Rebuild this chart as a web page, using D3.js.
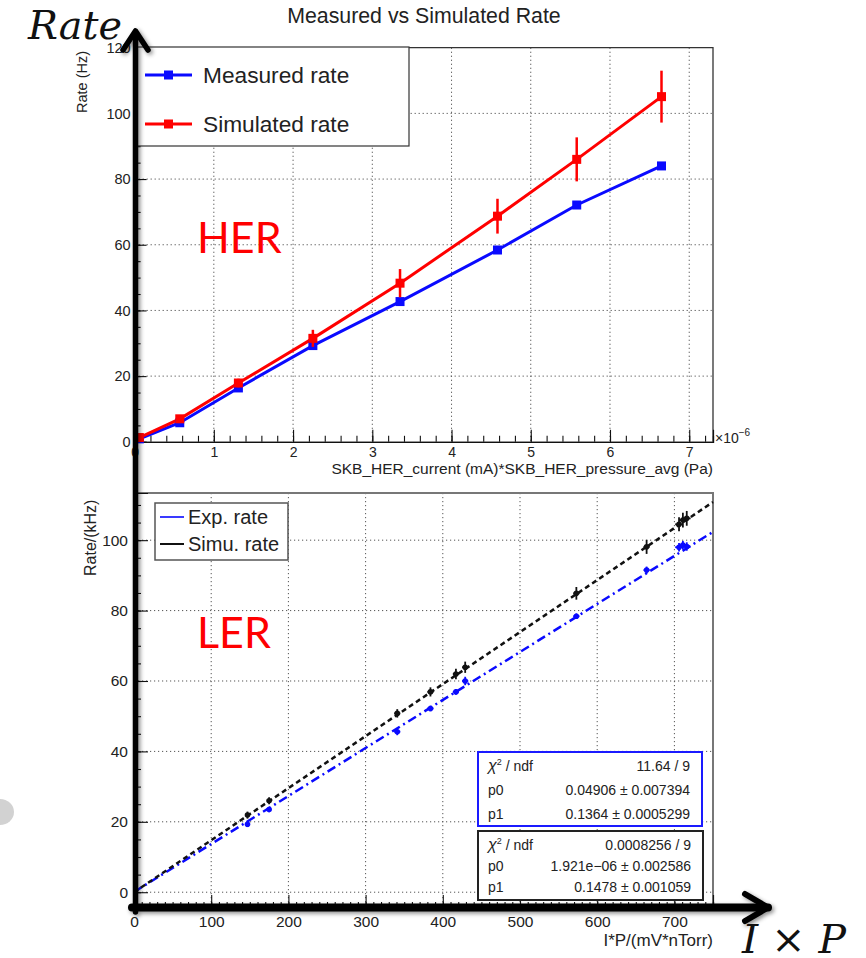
<!DOCTYPE html>
<html>
<head>
<meta charset="utf-8">
<script src="https://cdn.jsdelivr.net/npm/d3@7"></script>
<style>
  html, body { margin: 0; padding: 0; background: #fff; }
  svg { display: block; font-family: "Liberation Sans", Arial, sans-serif; }
  text { fill: #222; }
</style>
</head>
<body>
<svg id="chart" width="866" height="958"></svg>
<script>
// ---------- HER panel data (x in units of 1e-6 mA*Pa, rate in Hz) ----------
const herX = [0.06, 0.57, 1.31, 2.25, 3.35, 4.58, 5.58, 6.65];
const herMeasured = [0.9, 5.8, 16.4, 29.3, 42.7, 58.4, 72.1, 84.0];
const herSimulated = [1.3, 7.0, 17.9, 31.5, 48.3, 68.7, 86.0, 105.1];
const herSimErr = [0.3, 0.8, 1.3, 2.6, 4.3, 5.3, 6.7, 7.9];
const herXTicks = [0, 1, 2, 3, 4, 5, 6, 7];
const herYTicks = [0, 20, 40, 60, 80, 100, 120];

// ---------- LER panel data (x in mV*nTorr, rate in kHz) ----------
const lerX = [147, 175, 341, 384, 417, 429, 573, 664, 706, 711, 716];
const lerExp = [19.3, 23.5, 45.6, 52.2, 56.9, 60.0, 78.4, 91.5, 98.0, 98.6, 98.2];
const lerExpErr = [0.8, 0.8, 1.0, 0.8, 0.8, 1.2, 0.8, 1.0, 1.2, 1.2, 1.2];
const lerSim = [21.9, 26.0, 50.8, 56.9, 62.0, 63.9, 84.9, 98.1, 104.5, 105.7, 106.2];
const lerSimErr = [1.0, 1.0, 1.2, 1.3, 1.5, 1.6, 1.8, 2.0, 2.0, 2.1, 2.1];
const lerXErr = [3, 3, 4, 4, 4, 4, 4, 4, 5, 5, 5];
const lerXTicks = [0, 100, 200, 300, 400, 500, 600, 700];
const lerYTicks = [0, 20, 40, 60, 80, 100];
// linear fits: rate = p0 + p1 * x
const expFit = { p0: 0.04906, p1: 0.1364 };
const simFit = { p0: 1.921e-06, p1: 0.1478 };
const expFitRows = [["\u03c7\u00b2 / ndf", "11.64 / 9"], ["p0", "0.04906 \u00b1 0.007394"], ["p1", "0.1364 \u00b1 0.0005299"]];
const simFitRows = [["\u03c7\u00b2 / ndf", "0.0008256 / 9"], ["p0", "1.921e\u221206 \u00b1 0.002586"], ["p1", "0.1478 \u00b1 0.001059"]];

const svg = d3.select("#chart");
const BLUE = "#0a0aff", RED = "#ff0000";

// drop shadow for the hand-drawn axis arrows
const defs = svg.append("defs");
const f = defs.append("filter").attr("id", "shadow").attr("x", "-20%").attr("y", "-20%").attr("width", "140%").attr("height", "140%");
f.append("feDropShadow").attr("dx", 2).attr("dy", 2).attr("stdDeviation", 2).attr("flood-color", "#000").attr("flood-opacity", 0.45);

// soft gray blob at the left edge
svg.append("ellipse").attr("cx", 0).attr("cy", 812).attr("rx", 14).attr("ry", 13).attr("fill", "#d2d2d2");

function styleAxis(g, size) {
  g.attr("font-family", null);
  g.select(".domain").attr("stroke", "#111").attr("stroke-width", 1.2);
  g.selectAll(".tick line").attr("stroke", "#111").attr("stroke-width", 1.1);
  g.selectAll(".tick text").attr("font-size", size || 14).attr("fill", "#222");
}

function range(a, b, s) { const r = []; for (let v = a; v <= b + 1e-9; v += s) r.push(+v.toFixed(6)); return r; }

// =================== HER panel ===================
const hx = d3.scaleLinear().domain([0, 7.3]).range([134.6, 713]);
const hy = d3.scaleLinear().domain([0, 120]).range([441.8, 47.7]);
const herPanel = svg.append("g");

herPanel.append("text").attr("x", 424).attr("y", 23).attr("text-anchor", "middle")
  .attr("font-size", 21.3).text("Measured vs Simulated Rate");

// grid
const hgrid = herPanel.append("g").attr("stroke", "#555").attr("stroke-width", 1).attr("stroke-dasharray", "1.2,2.8");
herXTicks.slice(1).forEach(v => hgrid.append("line").attr("x1", hx(v)).attr("x2", hx(v)).attr("y1", hy(120)).attr("y2", hy(0)));
herYTicks.slice(1, -1).forEach(v => hgrid.append("line").attr("x1", hx(0)).attr("x2", hx(7.3)).attr("y1", hy(v)).attr("y2", hy(v)));

// frame
herPanel.append("path").attr("d", `M${hx(0)},${hy(120)}H${hx(7.3)}V${hy(0)}`).attr("fill", "none").attr("stroke", "#333").attr("stroke-width", 1.3);

// axes
const hxMinor = herPanel.append("g").attr("transform", `translate(0,${hy(0)})`)
  .call(d3.axisBottom(hx).tickValues(range(0, 7.2, 0.2)).tickSize(-6).tickFormat(""));
styleAxis(hxMinor);
const hxMajor = herPanel.append("g").attr("transform", `translate(0,${hy(0)})`)
  .call(d3.axisBottom(hx).tickValues(herXTicks).tickSize(-12).tickPadding(5).tickFormat(d3.format("d")));
styleAxis(hxMajor, 14);
const hyMinor = herPanel.append("g").attr("transform", `translate(${hx(0)},0)`)
  .call(d3.axisLeft(hy).tickValues(range(0, 120, 5)).tickSize(-6).tickFormat(""));
styleAxis(hyMinor);
const hyMajor = herPanel.append("g").attr("transform", `translate(${hx(0)},0)`)
  .call(d3.axisLeft(hy).tickValues(herYTicks).tickSize(-12).tickPadding(4).tickFormat(d3.format("d")));
styleAxis(hyMajor, 14.5);

herPanel.append("text").attr("x", 713).attr("y", 474).attr("text-anchor", "end").attr("font-size", 15.5)
  .text("SKB_HER_current (mA)*SKB_HER_pressure_avg (Pa)");
const expLabel = herPanel.append("text").attr("x", 715).attr("y", 443).attr("font-size", 14);
expLabel.append("tspan").text("\u00d710");
expLabel.append("tspan").attr("dy", -7).attr("font-size", 10).text("\u22126");
herPanel.append("text").attr("transform", "translate(87,113) rotate(-90)").attr("text-anchor", "start")
  .attr("font-size", 14.5).text("Rate (Hz)");

// series
const hline = d3.line().x(d => hx(d[0])).y(d => hy(d[1]));
const measPts = herX.map((x, i) => [x, herMeasured[i]]);
const simPts = herX.map((x, i) => [x, herSimulated[i]]);
herPanel.append("path").datum(measPts).attr("d", hline).attr("fill", "none").attr("stroke", BLUE).attr("stroke-width", 3);
herPanel.append("path").datum(simPts).attr("d", hline).attr("fill", "none").attr("stroke", RED).attr("stroke-width", 3);
herPanel.append("g").selectAll("rect").data(measPts).join("rect")
  .attr("x", d => hx(d[0]) - 4.5).attr("y", d => hy(d[1]) - 4.5).attr("width", 9).attr("height", 9).attr("fill", BLUE);
herPanel.append("g").selectAll("line").data(herX.map((x, i) => [x, herSimulated[i], herSimErr[i]])).join("line")
  .attr("x1", d => hx(d[0])).attr("x2", d => hx(d[0]))
  .attr("y1", d => hy(d[1] - d[2])).attr("y2", d => hy(d[1] + d[2]))
  .attr("stroke", RED).attr("stroke-width", 2.5);
herPanel.append("g").selectAll("rect").data(simPts).join("rect")
  .attr("x", d => hx(d[0]) - 4.5).attr("y", d => hy(d[1]) - 4.5).attr("width", 9).attr("height", 9).attr("fill", RED);

// legend
const hl = herPanel.append("g");
hl.append("rect").attr("x", 137).attr("y", 47).attr("width", 272).attr("height", 99)
  .attr("fill", "#fff").attr("stroke", "#333").attr("stroke-width", 1.2);
[["Measured rate", BLUE, 75], ["Simulated rate", RED, 124]].forEach(([t, c, y]) => {
  hl.append("line").attr("x1", 145).attr("x2", 192).attr("y1", y).attr("y2", y).attr("stroke", c).attr("stroke-width", 3);
  hl.append("rect").attr("x", 164).attr("y", y - 4.5).attr("width", 9).attr("height", 9).attr("fill", c);
  hl.append("text").attr("x", 203).attr("y", y + 8).attr("font-size", 22.7).text(t);
});

herPanel.append("text").attr("x", 197).attr("y", 253).attr("font-size", 43)
  .style("font-family", "Lato, 'Open Sans', sans-serif").style("fill", RED).text("HER");

// =================== LER panel ===================
const lx = d3.scaleLinear().domain([0, 750]).range([134, 713]);
const ly = d3.scaleLinear().domain([-4.2, 113.4]).range([907, 493]);
const lerPanel = svg.append("g");

const lgrid = lerPanel.append("g").attr("stroke", "#555").attr("stroke-width", 1).attr("stroke-dasharray", "1.2,2.8");
lerXTicks.slice(1).forEach(v => lgrid.append("line").attr("x1", lx(v)).attr("x2", lx(v)).attr("y1", ly(113.4)).attr("y2", ly(-4.2)));
lerYTicks.forEach(v => lgrid.append("line").attr("x1", lx(0)).attr("x2", lx(750)).attr("y1", ly(v)).attr("y2", ly(v)));

lerPanel.append("path").attr("d", `M${lx(0)},${ly(113.4)}H${lx(750)}V${ly(-4.2)}`).attr("fill", "none").attr("stroke", "#777").attr("stroke-width", 2);

const lxMinor = lerPanel.append("g").attr("transform", `translate(0,${ly(-4.2)})`)
  .call(d3.axisBottom(lx).tickValues(range(0, 750, 10)).tickSize(-5).tickFormat(""));
styleAxis(lxMinor);
const lxMajor = lerPanel.append("g").attr("transform", `translate(0,${ly(-4.2)})`)
  .call(d3.axisBottom(lx).tickValues(lerXTicks).tickSize(-12).tickPadding(9).tickFormat(d3.format("d")));
styleAxis(lxMajor, 15.5);
const lyMinor = lerPanel.append("g").attr("transform", `translate(${lx(0)},0)`)
  .call(d3.axisLeft(ly).tickValues(range(0, 110, 5)).tickSize(-7).tickFormat(""));
styleAxis(lyMinor);
const lyMajor = lerPanel.append("g").attr("transform", `translate(${lx(0)},0)`)
  .call(d3.axisLeft(ly).tickValues(lerYTicks).tickSize(-14).tickPadding(6).tickFormat(d3.format("d")));
styleAxis(lyMajor, 15.5);

lerPanel.append("text").attr("x", 713).attr("y", 946).attr("text-anchor", "end").attr("font-size", 17).text("I*P/(mV*nTorr)");
lerPanel.append("text").attr("transform", "translate(96,576) rotate(-90)").attr("text-anchor", "start")
  .attr("font-size", 16).text("Rate/(kHz)");

// fit lines
const fitLine = (fit) => [[0, fit.p0], [750, fit.p0 + fit.p1 * 750]];
const lline = d3.line().x(d => lx(d[0])).y(d => ly(d[1]));
lerPanel.append("path").datum(fitLine(expFit)).attr("d", lline).attr("stroke", BLUE).attr("stroke-width", 2.5)
  .attr("stroke-dasharray", "9,4,2,4").attr("fill", "none");
lerPanel.append("path").datum(fitLine(simFit)).attr("d", lline).attr("stroke", "#111").attr("stroke-width", 2.5)
  .attr("stroke-dasharray", "5,3.5").attr("fill", "none");

// data points with error bars
function drawPoints(ys, yerr, color) {
  const g = lerPanel.append("g").attr("stroke", color).attr("stroke-width", 1.8);
  lerX.forEach((x, i) => {
    g.append("line").attr("x1", lx(x)).attr("x2", lx(x)).attr("y1", ly(ys[i] - yerr[i])).attr("y2", ly(ys[i] + yerr[i]));
    g.append("line").attr("x1", lx(x - lerXErr[i])).attr("x2", lx(x + lerXErr[i])).attr("y1", ly(ys[i])).attr("y2", ly(ys[i]));
    g.append("circle").attr("cx", lx(x)).attr("cy", ly(ys[i])).attr("r", 2.8).attr("fill", color).attr("stroke", "none");
  });
}
drawPoints(lerExp, lerExpErr, BLUE);
drawPoints(lerSim, lerSimErr, "#111");

// legend
const ll = lerPanel.append("g");
ll.append("rect").attr("x", 155).attr("y", 503).attr("width", 133).attr("height", 57)
  .attr("fill", "#fff").attr("stroke", "#555").attr("stroke-width", 1.5);
[["Exp. rate", "#3a3aff", 517], ["Simu. rate", "#111", 544]].forEach(([t, c, y]) => {
  ll.append("line").attr("x1", 160).attr("x2", 184).attr("y1", y).attr("y2", y).attr("stroke", c).attr("stroke-width", 2);
  ll.append("text").attr("x", 188).attr("y", y + 7).attr("font-size", 20).text(t);
});

// fit statistics boxes
function statBox(rows, x, y, w, h, color, rowY) {
  const g = lerPanel.append("g");
  g.append("rect").attr("x", x).attr("y", y).attr("width", w).attr("height", h)
    .attr("fill", "#fff").attr("stroke", color).attr("stroke-width", 2);
  rows.forEach(([k, v], i) => {
    const t = g.append("text").attr("x", x + 10).attr("y", rowY[i]).attr("font-size", 14);
    if (k.startsWith("\u03c7")) {
      t.append("tspan").attr("font-style", "italic").attr("font-size", 16).text("\u03c7");
      t.append("tspan").attr("dy", -6).attr("font-size", 9).text("2");
      t.append("tspan").attr("dy", 6).text(" / ndf");
    } else t.text(k);
    g.append("text").attr("x", x + w - 12).attr("y", rowY[i]).attr("text-anchor", "end").attr("font-size", 14).text(v);
  });
}
statBox(expFitRows, 478, 752, 224, 74, "#1a1aff", [771, 795, 819]);
statBox(simFitRows, 478, 831, 225, 69, "#222", [850, 871, 892]);

lerPanel.append("text").attr("x", 197).attr("y", 648).attr("font-size", 43)
  .style("font-family", "Lato, 'Open Sans', sans-serif").style("fill", RED).text("LER");

// =================== axis arrows ===================
const arrows = svg.append("g").attr("filter", "url(#shadow)").attr("stroke", "#000").attr("fill", "none")
  .attr("stroke-linecap", "round").attr("stroke-linejoin", "round");
arrows.append("line").attr("x1", 135.5).attr("y1", 912).attr("x2", 135.5).attr("y2", 32).attr("stroke-width", 5.5);
arrows.append("path").attr("d", "M123,50 L135.5,31 L148,50").attr("stroke-width", 5.5);
arrows.append("line").attr("x1", 132).attr("y1", 907.5).attr("x2", 768).attr("y2", 907.5).attr("stroke-width", 8);
arrows.append("path").attr("d", "M745,894 L768,907.5 L745,921").attr("stroke-width", 6);

svg.append("text").attr("x", 28).attr("y", 39).attr("font-size", 40).attr("textLength", 94).attr("lengthAdjust", "spacingAndGlyphs")
  .style("font-family", "'DejaVu Serif', serif").style("font-style", "italic").style("fill", "#111").text("Rate");
svg.append("text").attr("x", 742).attr("y", 953).attr("font-size", 40).attr("textLength", 104).attr("lengthAdjust", "spacingAndGlyphs")
  .style("font-family", "'DejaVu Serif', serif").style("font-style", "italic").style("fill", "#111").text("I \u00d7 P");
</script>
</body>
</html>
